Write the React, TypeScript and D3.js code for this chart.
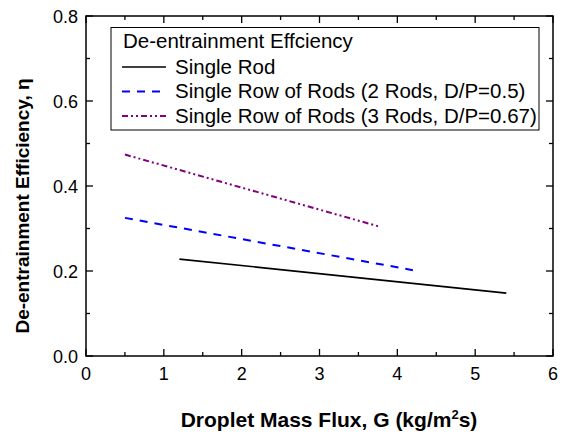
import React from "react";
import * as d3 from "d3";

const singleRodX = [1.2, 5.4];
const singleRodY = [0.228, 0.148];
const twoRodsX = [0.5, 4.2];
const twoRodsY = [0.325, 0.202];
const threeRodsX = [0.5, 3.78];
const threeRodsY = [0.474, 0.304];

const xTicks = [0, 1, 2, 3, 4, 5, 6];
const xMinor = [0.5, 1.5, 2.5, 3.5, 4.5, 5.5];
const yTicks = [0, 0.2, 0.4, 0.6, 0.8];
const yMinor = [0.1, 0.3, 0.5, 0.7];

const legendTitle = "De-entrainment Effciency";
const seriesNames = [
  "Single Rod",
  "Single Row of Rods (2 Rods, D/P=0.5)",
  "Single Row of Rods (3 Rods, D/P=0.67)",
];

export default function App() {
  const W = 564, H = 437;
  const left = 86, right = 553, top = 16, bottom = 356;
  const x = d3.scaleLinear().domain([0, 6]).range([left, right]);
  const y = d3.scaleLinear().domain([0, 0.8]).range([bottom, top]);
  const line = d3.line<[number, number]>().x(d => x(d[0])).y(d => y(d[1]));
  const zip = (a: number[], b: number[]) => a.map((v, i) => [v, b[i]] as [number, number]);

  const series = [
    { d: zip(singleRodX, singleRodY), color: "#000", dash: "none", w: 1.6 },
    { d: zip(twoRodsX, twoRodsY), color: "#0000ff", dash: "8 7", w: 2 },
    { d: zip(threeRodsX, threeRodsY), color: "#800080", dash: "6 3 2 3 2 3", w: 2 },
  ];
  const font = "Arial, 'Liberation Sans', sans-serif";
  const legRows = [67, 91.5, 116];

  return (
    <svg width={W} height={H} style={{ position: "absolute", left: 0, top: 0 }} fontFamily={font}>
      <rect x={0} y={0} width={W} height={H} fill="#fff" />
      {series.map((s, i) => (
        <path key={i} d={line(s.d) || ""} fill="none" stroke={s.color} strokeWidth={s.w} strokeDasharray={s.dash} />
      ))}
      {/* frame */}
      <rect x={left} y={top} width={right - left} height={bottom - top} fill="none" stroke="#000" strokeWidth={1.5} />
      {xTicks.map(t => (
        <g key={"xt" + t}>
          <line x1={x(t)} x2={x(t)} y1={bottom} y2={bottom - 7} stroke="#000" strokeWidth={1.3} />
          <line x1={x(t)} x2={x(t)} y1={top} y2={top + 7} stroke="#000" strokeWidth={1.3} />
          <text x={x(t)} y={bottom + 23.5} fontSize={18} textAnchor="middle">{t}</text>
        </g>
      ))}
      {xMinor.map(t => (
        <g key={"xm" + t}>
          <line x1={x(t)} x2={x(t)} y1={bottom} y2={bottom - 4} stroke="#000" strokeWidth={1.3} />
          <line x1={x(t)} x2={x(t)} y1={top} y2={top + 4} stroke="#000" strokeWidth={1.3} />
        </g>
      ))}
      {yTicks.map(t => (
        <g key={"yt" + t}>
          <line x1={left} x2={left + 7} y1={y(t)} y2={y(t)} stroke="#000" strokeWidth={1.3} />
          <line x1={right} x2={right - 7} y1={y(t)} y2={y(t)} stroke="#000" strokeWidth={1.3} />
          <text x={left - 8} y={y(t) + 6.5} fontSize={18} textAnchor="end">{t.toFixed(1)}</text>
        </g>
      ))}
      {yMinor.map(t => (
        <g key={"ym" + t}>
          <line x1={left} x2={left + 4} y1={y(t)} y2={y(t)} stroke="#000" strokeWidth={1.3} />
          <line x1={right} x2={right - 4} y1={y(t)} y2={y(t)} stroke="#000" strokeWidth={1.3} />
        </g>
      ))}
      {/* legend */}
      <rect x={111} y={27.5} width={428} height={102.5} fill="#fff" stroke="#000" strokeWidth={1} />
      <text x={123} y={48} fontSize={20.5}>{legendTitle}</text>
      {series.map((s, i) => (
        <g key={"lg" + i}>
          <line x1={122} x2={166} y1={legRows[i]} y2={legRows[i]} stroke={s.color} strokeWidth={s.w} strokeDasharray={s.dash} />
          <text x={175} y={legRows[i] + 6.5} fontSize={20.5}>{seriesNames[i]}</text>
        </g>
      ))}
      {/* axis titles */}
      <text transform={`translate(29, 206) rotate(-90)`} fontSize={19} fontWeight="bold" textAnchor="middle">
        De-entrainment Efficiency, η
      </text>
      <text x={329} y={427} fontSize={21} fontWeight="bold" textAnchor="middle">
        Droplet Mass Flux, G (kg/m<tspan dy={-8} fontSize={13}>2</tspan><tspan dy={8}>s)</tspan>
      </text>
    </svg>
  );
}
